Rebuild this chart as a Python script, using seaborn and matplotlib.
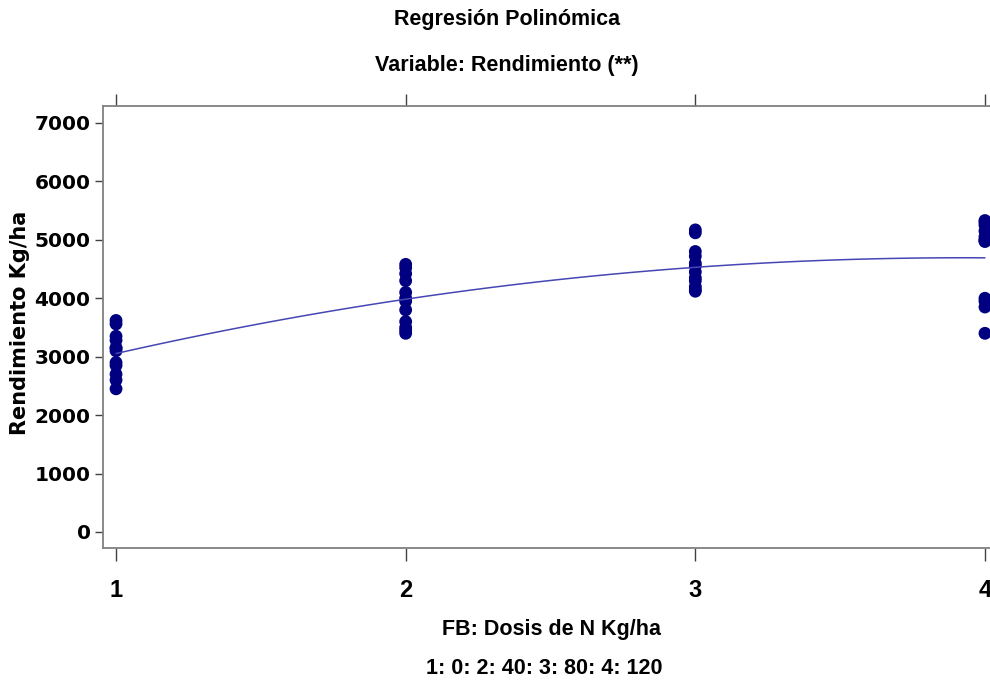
import numpy as np
import pandas as pd
import matplotlib
matplotlib.use("Agg")
import matplotlib.pyplot as plt
import seaborn as sns

# ---- data ----
dose_1 = [3620, 3560, 3350, 3280, 3150, 3100, 3150, 2900, 2850, 2700, 2600, 2450]
dose_2 = [4580, 4520, 4420, 4300, 4100, 4000, 3950, 3800, 3600, 3500, 3450, 3400]
dose_3 = [5170, 5120, 4800, 4720, 4600, 4550, 4450, 4350, 4300, 4200, 4150, 4120]
dose_4 = [5330, 5300, 5250, 5150, 5050, 5000, 4990, 4970, 4000, 3950, 3850, 3400]
levels = [1, 2, 3, 4]
x_ticks = [1, 2, 3, 4]
y_ticks = [0, 1000, 2000, 3000, 4000, 5000, 6000, 7000]

title1 = "Regresión Polinómica"
title2 = "Variable: Rendimiento (**)"
xlabel1 = "FB: Dosis de N Kg/ha"
xlabel2 = "1: 0: 2: 40: 3: 80: 4: 120"
ylabel = "Rendimiento Kg/ha"

groups = [dose_1, dose_2, dose_3, dose_4]
df = pd.DataFrame({
    "dosis": np.concatenate([[lv] * len(g) for lv, g in zip(levels, groups)]),
    "rend": np.concatenate(groups),
})

sns.set_style("white")
plt.rcParams["font.family"] = ["Liberation Sans", "DejaVu Sans"]
plt.rcParams["text.color"] = "black"
plt.rcParams["xtick.color"] = "black"
plt.rcParams["ytick.color"] = "black"

fig = plt.figure(figsize=(9.9, 6.84), dpi=100)
ax = fig.add_axes([103 / 990, 136 / 684, 895 / 990, 442 / 684])

sns.regplot(data=df, x="dosis", y="rend", order=2, ci=None, ax=ax,
            scatter_kws=dict(s=85, color="#000080", edgecolor="none", alpha=1),
            line_kws=dict(color="#4646b4", lw=1.1))

ax.set_xlim(0.955, 4.045)
ax.set_ylim(-274, 7290)
ax.set_xticks(x_ticks)
ax.set_yticks(y_ticks)
ax.set_xticklabels([str(t) for t in x_ticks], fontsize=17, fontweight="bold",
                   family=["Liberation Sans"])
ax.set_yticklabels([str(t) for t in y_ticks], fontsize=14.5, fontweight="bold",
                   family=["DejaVu Sans"])
ax.set_xlabel("")
ax.set_ylabel("")

for s in ax.spines.values():
    s.set_color("#808080")
    s.set_linewidth(1.3)
    s.set_visible(True)

ax.tick_params(axis="x", which="both", direction="out", length=9, width=1,
               color="#404040", labelcolor="black", pad=13, top=True, bottom=True)
ax.tick_params(axis="y", which="both", direction="out", length=6, width=1,
               color="#404040", labelcolor="black", pad=3, left=True)

# titles and axis labels
fig.text(507 / 990, 1 - 20 / 684, title1, ha="center", va="center",
         fontsize=15.5, fontweight="bold", color="black")
fig.text(507 / 990, 1 - 66 / 684, title2, ha="center", va="center",
         fontsize=15.5, fontweight="bold", color="black")
fig.text(551 / 990, 1 - 630 / 684, xlabel1, ha="center", va="center",
         fontsize=15.5, fontweight="bold", color="black")
fig.text(544 / 990, 1 - 668 / 684, xlabel2, ha="center", va="center",
         fontsize=15.5, fontweight="bold", color="black")
fig.text(20 / 990, 1 - 323 / 684, ylabel, ha="center", va="center", rotation=90,
         fontsize=15, fontweight="bold", family=["DejaVu Sans"], color="black")

fig.savefig("out.png", dpi=100)
